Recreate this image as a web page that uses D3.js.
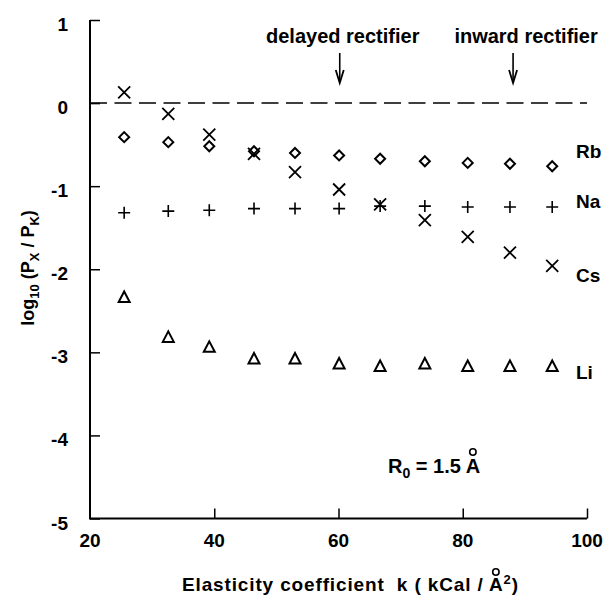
<!DOCTYPE html>
<html>
<head>
<meta charset="utf-8">
<script src="https://cdn.jsdelivr.net/npm/d3@7"></script>
<style>
  body { margin: 0; background: #fff; }
  text { font-family: "Liberation Sans", Arial, sans-serif; font-weight: bold; fill: #000; white-space: pre; }
</style>
</head>
<body>
<svg id="chart" width="612" height="603"></svg>
<script>
// elasticity coefficient k for each point
const kValues = [25.5, 32.6, 39.2, 46.4, 53.0, 60.1, 66.7, 73.9, 80.8, 87.6, 94.4];

// log10(Px/PK) for each ion
const rb = [-0.41, -0.47, -0.52, -0.58, -0.60, -0.63, -0.67, -0.70, -0.72, -0.73, -0.76];
const na = [-1.32, -1.30, -1.29, -1.27, -1.27, -1.27, -1.24, -1.24, -1.25, -1.25, -1.25];
const cs = [0.13, -0.13, -0.38, -0.61, -0.83, -1.04, -1.22, -1.41, -1.61, -1.80, -1.96];
const li = [-2.34, -2.82, -2.94, -3.08, -3.08, -3.14, -3.17, -3.14, -3.17, -3.17, -3.17];

const xTicks = [20, 40, 60, 80, 100];
const yTicks = [1, 0, -1, -2, -3, -4, -5];

// series names and where their labels sit (in log units)
const seriesNames = ["Rb", "Na", "Cs", "Li"];
const labelLevels = [-0.66, -1.26, -2.15, -3.32];

// arrows marking channel types
const arrowNames = ["delayed rectifier", "inward rectifier"];
const arrowK = [60.2, 88.1];

const svg = d3.select("#chart");

const x = d3.scaleLinear().domain([20, 100]).range([90, 587]);
const y = d3.scaleLinear().domain([-5, 1]).range([518.5, 20]);

// draws the ring of an angstrom sign above a given character
function ring(textSel, idx, dy) {
  const e = textSel.node().getExtentOfChar(idx);
  svg.append("circle")
    .attr("cx", e.x + e.width / 2).attr("cy", e.y + dy).attr("r", 3.2)
    .attr("fill", "none").attr("stroke", "#000").attr("stroke-width", 1.6);
}

// axes, ticks pointing inward
svg.append("g")
  .attr("transform", `translate(0, ${y(-5)})`)
  .call(d3.axisTop(x).tickValues(xTicks.slice(1)).tickSize(10).tickFormat(""))
  .call(g => g.select(".domain").remove())
  .selectAll("line").attr("stroke", "#000").attr("stroke-width", 1.5);

svg.append("g")
  .attr("transform", `translate(${x(20)}, 0)`)
  .call(d3.axisRight(y).tickValues(yTicks).tickSize(10).tickFormat(""))
  .call(g => g.select(".domain").remove())
  .selectAll("line").attr("stroke", "#000").attr("stroke-width", 1.5);

svg.append("path")
  .attr("d", `M${x(20)},${y(1)} V${y(-5)} H${x(100)}`)
  .attr("fill", "none").attr("stroke", "#000").attr("stroke-width", 2);

// tick labels
svg.selectAll(".xl").data(xTicks).enter().append("text")
  .attr("x", d => x(d)).attr("y", 547)
  .attr("text-anchor", "middle").attr("font-size", 19)
  .text(d => d);

svg.selectAll(".yl").data(yTicks).enter().append("text")
  .attr("x", 68).attr("y", d => y(d) + 11)
  .attr("text-anchor", "end").attr("font-size", 19)
  .text(d => d);

// dashed zero line
svg.append("line")
  .attr("x1", x(20)).attr("x2", x(100))
  .attr("y1", y(0)).attr("y2", y(0))
  .attr("stroke", "#000").attr("stroke-width", 1.5)
  .attr("stroke-dasharray", "17,7.5");

// markers
const pts = arr => arr.map((v, i) => [x(kValues[i]), y(v)]);

svg.selectAll(".rb").data(pts(rb)).enter().append("path")
  .attr("d", d => `M${d[0]},${d[1] - 5} L${d[0] + 5},${d[1]} L${d[0]},${d[1] + 5} L${d[0] - 5},${d[1]} Z`)
  .attr("fill", "none").attr("stroke", "#000").attr("stroke-width", 2);

svg.selectAll(".na").data(pts(na)).enter().append("path")
  .attr("d", d => `M${d[0] - 6},${d[1]} H${d[0] + 6} M${d[0]},${d[1] - 6} V${d[1] + 6}`)
  .attr("stroke", "#000").attr("stroke-width", 1.6);

svg.selectAll(".cs").data(pts(cs)).enter().append("path")
  .attr("d", d => `M${d[0] - 6},${d[1] - 6} L${d[0] + 6},${d[1] + 6} M${d[0] + 6},${d[1] - 6} L${d[0] - 6},${d[1] + 6}`)
  .attr("stroke", "#000").attr("stroke-width", 1.8);

svg.selectAll(".li").data(pts(li)).enter().append("path")
  .attr("d", d => `M${d[0]},${d[1] - 6} L${d[0] + 5.5},${d[1] + 4.5} L${d[0] - 5.5},${d[1] + 4.5} Z`)
  .attr("fill", "none").attr("stroke", "#000").attr("stroke-width", 2);

// series labels
svg.selectAll(".sl").data(seriesNames).enter().append("text")
  .attr("x", 576).attr("y", (d, i) => y(labelLevels[i]))
  .attr("font-size", 19)
  .text(d => d);

// arrows + labels
arrowNames.forEach((name, i) => {
  const ax = x(arrowK[i]);
  svg.append("text")
    .attr("x", ax + (i === 0 ? 3 : 13)).attr("y", 43)
    .attr("text-anchor", "middle").attr("font-size", 20)
    .text(name);
  svg.append("line")
    .attr("x1", ax).attr("x2", ax)
    .attr("y1", 53).attr("y2", 80)
    .attr("stroke", "#000").attr("stroke-width", 1.6);
  svg.append("path")
    .attr("d", `M${ax - 4},70 L${ax},83 L${ax + 4},70`)
    .attr("fill", "none").attr("stroke", "#000").attr("stroke-width", 1.8);
});

// R0 annotation
const r0 = svg.append("text").attr("x", 388).attr("y", 473).attr("font-size", 20);
r0.append("tspan").text("R");
r0.append("tspan").attr("font-size", 14).attr("dy", 5).text("0");
r0.append("tspan").attr("dy", -5).text(" = 1.5 A");
ring(r0, 9, -3);

// axis titles
const xt = svg.append("text").attr("x", 350).attr("y", 591)
  .attr("text-anchor", "middle").attr("font-size", 19)
  .attr("textLength", 336).attr("lengthAdjust", "spacing");
const xMain = "Elasticity coefficient  k ( kCal / A";
xt.append("tspan").text(xMain);
xt.append("tspan").attr("font-size", 13).attr("dy", -7).text("2");
xt.append("tspan").attr("dy", 7).text(")");
ring(xt, xMain.length - 1, -2);

const yt = svg.append("text")
  .attr("transform", `translate(34, 268) rotate(-90)`)
  .attr("text-anchor", "middle").attr("font-size", 18);
yt.append("tspan").text("log");
yt.append("tspan").attr("font-size", 13).attr("dy", 5).text("10");
yt.append("tspan").attr("dy", -5).text(" (P");
yt.append("tspan").attr("font-size", 13).attr("dy", 5).text("X");
yt.append("tspan").attr("dy", -5).text(" / P");
yt.append("tspan").attr("font-size", 13).attr("dy", 5).text("K");
yt.append("tspan").attr("dy", -5).text(")");
</script>
</body>
</html>
